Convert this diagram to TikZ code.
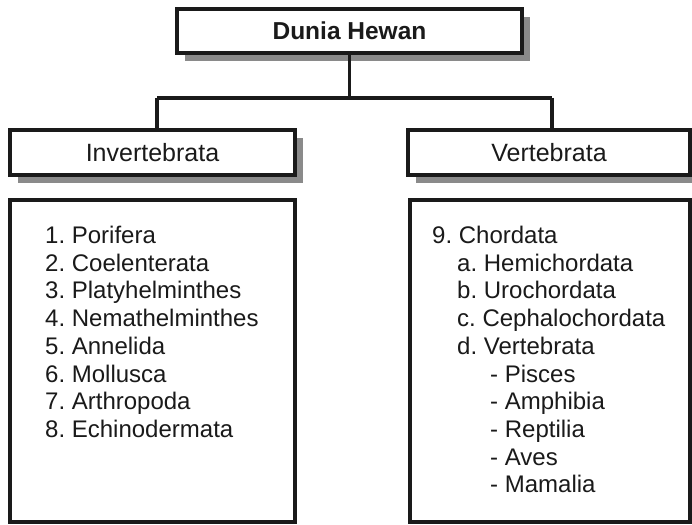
\documentclass[tikz,border=0pt]{standalone}
\usepackage{fontspec}
\setmainfont{Liberation Sans}
\usetikzlibrary{shadows}
\definecolor{ink}{HTML}{1A1A1A}
\definecolor{shade}{HTML}{8A8A8A}
\begin{document}
\frenchspacing
\begin{tikzpicture}[x=1pt,y=-1pt,
  headbox/.style={draw=ink,line width=3.8pt,fill=white,inner sep=0pt,
    drop shadow={shadow xshift=8pt,shadow yshift=-8pt,fill=shade,opacity=1}},
  listbox/.style={draw=ink,line width=3.2pt,fill=white,inner sep=0pt},
  listtext/.style={anchor=north west,inner sep=0pt,align=left,text=ink,
    font=\fontsize{24}{27.7}\selectfont},
  conn/.style={draw=ink,line width=3.8pt}]
\useasboundingbox (0,0) rectangle (692,524);
\clip (0,0) rectangle (692,524);
\fill[white] (0,0) rectangle (692,524);
% boxes
\node[headbox,minimum width=345pt,minimum height=44pt,text=ink,
  font=\fontsize{24.5}{28}\selectfont\bfseries] (top) at (349.5,31) {Dunia Hewan};
\node[headbox,minimum width=285pt,minimum height=45pt,text=ink,
  font=\fontsize{25}{28}\selectfont] (inv) at (152.5,152.5) {Invertebrata};
\node[headbox,minimum width=282pt,minimum height=45pt,text=ink,
  font=\fontsize{25}{28}\selectfont] (vert) at (549,152.5) {Vertebrata};
\node[listbox,minimum width=285pt,minimum height=322pt] (ll) at (152.5,361) {};
\node[listbox,minimum width=280pt,minimum height=322pt] (rl) at (550,361) {};
% connectors
\coordinate (jl) at (157,98);
\coordinate (jr) at (552,98);
\draw[conn] (top.south) -- (top.south |- jl);
\draw[conn] (jl) -- (jr);
\draw[conn] (jl) -- (jl |- inv.north);
\draw[conn] (jr) -- (jr |- vert.north);
% list texts
\node[listtext] (lt) at (45,226) {1. Porifera\\2. Coelenterata\\3. Platyhelminthes\\4. Nemathelminthes\\5. Annelida\\6. Mollusca\\7. Arthropoda\\8. Echinodermata};
\node[listtext] (rt) at (432,226) {9. Chordata\\
\hspace*{25pt}a. Hemichordata\\
\hspace*{25pt}b. Urochordata\\
\hspace*{25pt}c. Cephalochordata\\
\hspace*{25pt}d. Vertebrata\\
\hspace*{58pt}- Pisces\\
\hspace*{58pt}- Amphibia\\
\hspace*{58pt}- Reptilia\\
\hspace*{58pt}- Aves\\
\hspace*{58pt}- Mamalia};
\end{tikzpicture}
\end{document}
